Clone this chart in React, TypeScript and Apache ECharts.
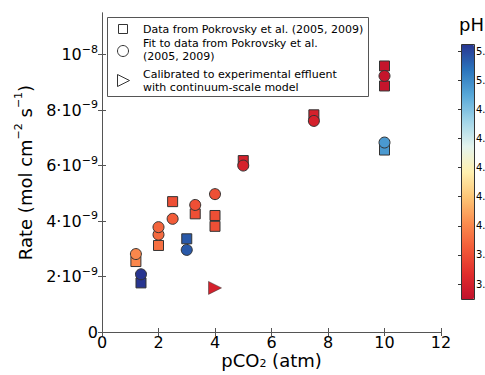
import React, { useEffect, useRef } from 'react';
import * as echarts from 'echarts';

// Data from Pokrovsky et al. (2005, 2009) – squares
const pco2Measured = [1.38, 1.2, 2.0, 2.5, 3.0, 3.3, 4.0, 4.0, 5.0, 7.5, 10, 10, 10];
const rateMeasured = [1.77e-9, 2.54e-9, 3.12e-9, 4.7e-9, 3.36e-9, 4.26e-9, 4.2e-9, 3.81e-9, 6.18e-9, 7.83e-9, 9.59e-9, 8.87e-9, 6.56e-9];
const phMeasured = [5.25, 4.0, 3.92, 3.8, 5.15, 3.8, 3.8, 3.8, 3.6, 3.6, 3.52, 3.52, 4.95];

// Fit to data – circles
const pco2Fit = [1.38, 1.2, 2.0, 2.0, 2.5, 3.0, 3.3, 4.0, 5.0, 7.5, 10, 10];
const rateFit = [2.08e-9, 2.81e-9, 3.51e-9, 3.78e-9, 4.08e-9, 2.96e-9, 4.58e-9, 4.97e-9, 6.0e-9, 7.61e-9, 9.23e-9, 6.83e-9];
const phFit = [5.25, 4.0, 3.9, 3.88, 3.85, 5.15, 3.8, 3.8, 3.6, 3.6, 3.52, 4.95];

// Calibrated to experimental effluent – triangle
const pco2Calibrated = [4.0];
const rateCalibrated = [1.59e-9];
const phCalibrated = [3.6];

const xTicks = [0, 2, 4, 6, 8, 10, 12];
const yTicks = [0, 2e-9, 4e-9, 6e-9, 8e-9, 1e-8];
const phTicks = [3.6, 3.8, 4.0, 4.2, 4.4, 4.6, 4.8, 5.0, 5.2];
const phMin = 3.49;
const phMax = 5.25;

const legendLabels = [
  'Data from Pokrovsky et al. (2005, 2009)',
  'Fit to data from Pokrovsky et al.\n(2005, 2009)',
  'Calibrated to experimental effluent\nwith continuum-scale model',
];

const FONT = 'DejaVu Sans';
const AXIS_COLOR = '#555';

const toPoints = (xs: number[], ys: number[], ps: number[]) => xs.map((x, i) => [x, ys[i], ps[i]]);

export default function App() {
  const ref = useRef<HTMLDivElement>(null);
  useEffect(() => {
    if (!ref.current) return;
    const chart = echarts.init(ref.current, null, { renderer: 'svg' });
    const markerStyle = { borderColor: '#333', borderWidth: 1, opacity: 1 };
    const option: any = {
      animation: false,
      backgroundColor: '#fff',
      textStyle: { fontFamily: FONT },
      grid: [
        { left: 102, top: 13, width: 339, height: 319, containLabel: false, outerBoundsMode: 'none' },
        { left: 461, top: 44, width: 13, height: 256, containLabel: false, outerBoundsMode: 'none' },
      ],
      xAxis: [
        {
          gridIndex: 0,
          type: 'value',
          min: 0,
          max: 12,
          interval: 2,
          position: 'bottom',
          axisLine: { show: true, lineStyle: { color: AXIS_COLOR, width: 1 } },
          axisTick: { show: true, inside: true, length: 4, customValues: xTicks, lineStyle: { color: AXIS_COLOR } },
          axisLabel: { customValues: xTicks, fontSize: 16, lineHeight: 14, color: '#000', margin: 3, fontFamily: FONT },
          splitLine: { show: false },
          name: 'pCO{sub|2} (atm)',
          nameLocation: 'middle',
          nameGap: 19,
          nameMoveOverlap: false,
          nameTextStyle: {
            fontSize: 18,
            color: '#000',
            fontFamily: FONT,
            lineHeight: 18,
            rich: {
              sub: { fontSize: 11, lineHeight: 7, verticalAlign: 'bottom', fontFamily: FONT, color: '#000' },
            },
          },
        },
        {
          gridIndex: 0,
          type: 'value',
          min: 0,
          max: 12,
          interval: 2,
          position: 'top',
          axisLine: { show: true, lineStyle: { color: AXIS_COLOR, width: 1 } },
          axisTick: { show: true, inside: true, length: 4, lineStyle: { color: AXIS_COLOR } },
          axisLabel: { show: false },
          splitLine: { show: false },
        },
        { gridIndex: 1, type: 'value', min: 0, max: 1, show: false },
      ],
      yAxis: [
        {
          gridIndex: 0,
          type: 'value',
          min: 0,
          max: 1.15e-8,
          position: 'left',
          axisLine: { show: true, lineStyle: { color: AXIS_COLOR, width: 1 } },
          axisTick: { show: true, inside: true, length: 4, customValues: yTicks, lineStyle: { color: AXIS_COLOR } },
          axisLabel: {
            customValues: yTicks,
            margin: 4,
            formatter: (v: number) => {
              const n = Math.round(v * 1e9);
              if (n === 0) return '{n|0}';
              if (n === 10) return '{n|10}{sup|−8}';
              return '{n|' + n + '·10}{sup|−9}';
            },
            rich: {
              n: { fontSize: 16, lineHeight: 22, color: '#000', fontFamily: FONT },
              sup: { fontSize: 11, lineHeight: 11, verticalAlign: 'top', color: '#000', fontFamily: FONT },
            },
          },
          splitLine: { show: false },
          name: 'Rate (mol cm{sup|−2} s{sup|−1})',
          nameLocation: 'middle',
          nameGap: 65,
          nameMoveOverlap: false,
          nameTextStyle: {
            fontSize: 18,
            color: '#000',
            fontFamily: FONT,
            lineHeight: 24,
            rich: {
              sup: { fontSize: 11, lineHeight: 11, verticalAlign: 'top', fontFamily: FONT, color: '#000' },
            },
          },
        },
        {
          gridIndex: 0,
          type: 'value',
          min: 0,
          max: 1.15e-8,
          position: 'right',
          axisLine: { show: true, lineStyle: { color: AXIS_COLOR, width: 1 } },
          axisTick: { show: true, inside: true, length: 4, customValues: yTicks, lineStyle: { color: AXIS_COLOR } },
          axisLabel: { show: false },
          splitLine: { show: false },
        },
        {
          gridIndex: 1,
          type: 'value',
          min: phMin,
          max: phMax,
          position: 'right',
          axisLine: { show: false },
          axisTick: { show: true, inside: true, length: 3, customValues: phTicks, lineStyle: { color: '#333' } },
          axisLabel: {
            customValues: phTicks,
            margin: 2,
            fontSize: 10,
            color: '#000',
            fontFamily: FONT,
            align: 'left',
            overflow: 'none',
            hideOverlap: false,
            formatter: (v: number) => v.toFixed(1),
          },
          splitLine: { show: false },
        },
      ],
      visualMap: {
        type: 'continuous',
        min: phMin,
        max: phMax,
        dimension: 2,
        seriesIndex: [0, 1, 2],
        calculable: false,
        hoverLink: false,
        left: 461,
        top: 44,
        padding: 0,
        itemWidth: 13,
        itemHeight: 256,
        inRange: {
          color: [
            '#c0102c', '#e02c2c', '#f25a38', '#fb8c4e', '#fdc575', '#fff0b0',
            '#e4f4ee', '#a0d4e8', '#58a8d8', '#2a74bc', '#283590',
          ],
        },
      },
      series: [
        {
          type: 'scatter',
          xAxisIndex: 0,
          yAxisIndex: 0,
          symbol: 'rect',
          symbolSize: 10,
          itemStyle: markerStyle,
          data: toPoints(pco2Measured, rateMeasured, phMeasured),
          z: 2,
        },
        {
          type: 'scatter',
          xAxisIndex: 0,
          yAxisIndex: 0,
          symbol: 'circle',
          symbolSize: 11,
          itemStyle: markerStyle,
          data: toPoints(pco2Fit, rateFit, phFit),
          z: 3,
        },
        {
          type: 'scatter',
          xAxisIndex: 0,
          yAxisIndex: 0,
          symbol: 'path://M0,0L10,5L0,10Z',
          symbolSize: 13,
          itemStyle: { borderColor: '#333', borderWidth: 0.5, opacity: 1 },
          data: toPoints(pco2Calibrated, rateCalibrated, phCalibrated),
          z: 4,
        },
      ],
      graphic: [
        {
          type: 'rect',
          z: 20,
          shape: { x: 461.5, y: 44.5, width: 13, height: 255 },
          style: { fill: 'none', stroke: '#333', lineWidth: 1 },
        },
        {
          type: 'text',
          z: 20,
          left: 459,
          top: 15,
          style: { text: 'pH', fontSize: 18, fontFamily: FONT, fill: '#000' },
        },
        {
          type: 'group',
          z: 30,
          children: [
            {
              type: 'rect',
              shape: { x: 107.5, y: 17.5, width: 261, height: 79 },
              style: { fill: '#fff', stroke: '#555', lineWidth: 1 },
            },
            {
              type: 'rect',
              shape: { x: 118.5, y: 24.5, width: 9, height: 9 },
              style: { fill: '#fff', stroke: '#333', lineWidth: 1 },
            },
            {
              type: 'circle',
              shape: { cx: 123, cy: 51, r: 5.5 },
              style: { fill: '#fff', stroke: '#333', lineWidth: 1 },
            },
            {
              type: 'polygon',
              shape: { points: [[117.5, 74.5], [129.5, 80.5], [117.5, 86.5]] },
              style: { fill: '#fff', stroke: '#333', lineWidth: 1 },
            },
            {
              type: 'text',
              x: 143,
              y: 29,
              style: { text: legendLabels[0], fontSize: 11, fontFamily: FONT, fill: '#000', verticalAlign: 'middle' },
            },
            {
              type: 'text',
              x: 143,
              y: 50,
              style: { text: legendLabels[1], fontSize: 11, lineHeight: 12.5, fontFamily: FONT, fill: '#000', verticalAlign: 'middle' },
            },
            {
              type: 'text',
              x: 143,
              y: 80.5,
              style: { text: legendLabels[2], fontSize: 11, lineHeight: 13, fontFamily: FONT, fill: '#000', verticalAlign: 'middle' },
            },
          ],
        },
      ],
    };
    chart.setOption(option);
    return () => chart.dispose();
  }, []);
  return <div ref={ref} style={{ width: 485, height: 375, position: 'absolute', left: 0, top: 0 }} />;
}
